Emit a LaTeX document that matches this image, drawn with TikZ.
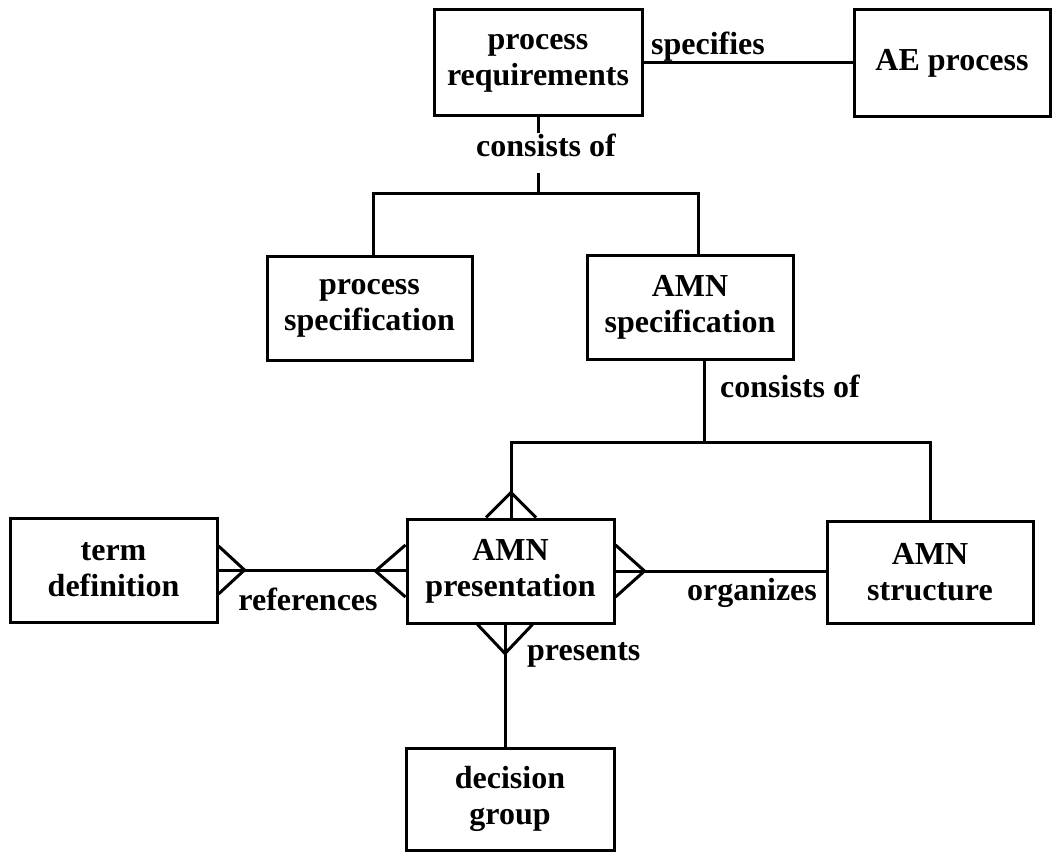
\documentclass[tikz,border=0pt]{standalone}
\usepackage{fontspec}
\setmainfont{Liberation Serif}
\usetikzlibrary{calc}
\begin{document}
\begin{tikzpicture}[x=1pt,y=-1pt,
  every node/.style={font=\fontsize{32}{36}\selectfont\bfseries},
  entity/.style={draw,line width=3pt,inner sep=0pt,align=center,
                 minimum width=#1},
  entity/.default=207pt,
  rel/.style={line width=3pt},
  lbl/.style={inner sep=0pt},
  line cap=rect]
\useasboundingbox (0,0) rectangle (1052,853);

% entities
\node[entity=208pt,minimum height=106pt] (preq) at (538,63) {process\\requirements};
\node[entity=196pt,minimum height=107pt] (ae) at (952,63.5) {AE process};
\node[entity=205pt,minimum height=104pt] (pspec) at (369.5,308) {process\\specification};
\node[entity=206pt,minimum height=104pt] (amnspec) at (690,307) {AMN\\specification};
\node[entity=207pt,minimum height=104pt] (term) at (113.5,570) {term\\definition};
\node[entity=207pt,minimum height=104pt] (pres) at (510.5,571) {AMN\\presentation};
\node[entity=206pt,minimum height=102pt] (struct) at (930,572) {AMN\\structure};
\node[entity=208pt,minimum height=102pt] (dec) at (510,799) {decision\\group};

% relationship labels
\node[lbl,anchor=base] (lspec) at (708,55) {specifies};
\node[lbl,anchor=base] (lcons1) at (546,157) {consists of};
\node[lbl,anchor=base west] (lcons2) at (720,397) {consists of};
\node[lbl,anchor=base] (lref) at (308,610) {references};
\node[lbl,anchor=base] (lorg) at (752,600) {organizes};
\node[lbl,anchor=base west] (lpres) at (527,660) {presents};

% junction points
\coordinate (g1a) at (538,132);
\coordinate (g1b) at (538,175);
\coordinate (j1) at (538,194);
\coordinate (j2) at (704,442);

% specifies
\draw[rel] (preq.east) -- (preq.east -| ae.west);

% process requirements consists of ...
\draw[rel] (preq.south) -- (g1a);
\draw[rel] (g1b) -- (j1);
\draw[rel] ([xshift=3.5pt]pspec.north) |- (j1) -| ([xshift=8pt]amnspec.north);

% AMN specification consists of ...
\draw[rel] ([xshift=14pt]amnspec.south) -- (j2);
\draw[rel] ([xshift=0.5pt]pres.north) |- (j2) -| (struct.north);

% references
\draw[rel] (term.east) -- (term.east -| pres.west);
% organizes
\draw[rel] (pres.east) -- (pres.east -| struct.west);
% presents
\draw[rel] ([xshift=-5.5pt]pres.south) -- ([xshift=-5pt]dec.north);

% crow's feet (many side)
\begin{scope}[rel,line cap=butt]
  % top of AMN presentation
  \draw ($(pres.north)+(-24.5,0)$) -- ($(pres.north)+(0.5,-25)$) -- ($(pres.north)+(25.5,0)$);
  % left of AMN presentation
  \draw ($(pres.west)+(0,-26)$) -- ($(pres.west)+(-30,0)$) -- ($(pres.west)+(0,26)$);
  % right of AMN presentation
  \draw ($(pres.east)+(0,-26)$) -- ($(pres.east)+(29,0)$) -- ($(pres.east)+(0,26)$);
  % bottom of AMN presentation
  \draw ($(pres.south)+(-33,0)$) -- ($(pres.south)+(-5.5,29)$) -- ($(pres.south)+(22,0)$);
  % right of term definition
  \draw ($(term.east)+(0,-24)$) -- ($(term.east)+(26,0)$) -- ($(term.east)+(0,24)$);
\end{scope}
\end{tikzpicture}
\end{document}
